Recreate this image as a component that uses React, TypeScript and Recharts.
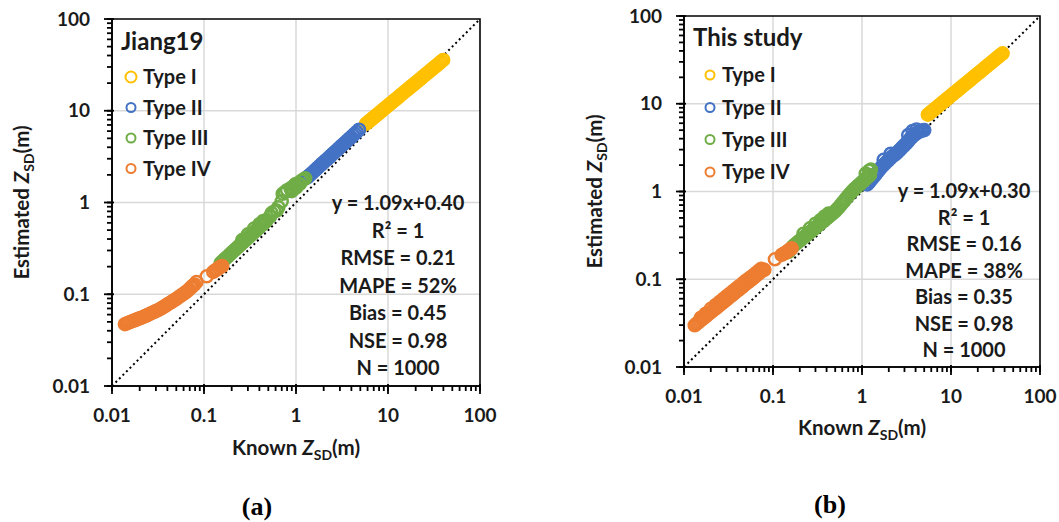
import React from 'react';
import {
  ScatterChart,
  Scatter,
  XAxis,
  YAxis,
  CartesianGrid,
  ReferenceLine,
  ReferenceArea,
  Legend,
} from 'recharts';

type Pt = [number, number];

const FONT = 'Lato, "Open Sans", sans-serif';
const INK = '#1a1a1a';

// axis ticks (log 0.01 - 100)
const decades = [0.01, 0.1, 1, 10, 100];
const decadeLabels = ['0.01', '0.1', '1', '10', '100'];
const minorSteps = [2, 3, 4, 5, 6, 7, 8, 9];
const minorTicks = decades.slice(0, 4).flatMap((d) => minorSteps.map((m) => Number((d * m).toPrecision(3))));
const axisTicks = [...decades, ...minorTicks].sort((a, b) => a - b);
const gridValues = [0.1, 1, 10];

const typeNames = ['Type I', 'Type II', 'Type III', 'Type IV'];
const typeColors = ['#FFC000', '#4472C4', '#70AD47', '#ED7D31'];

// (a) Jiang19
const typeIA: Pt[] = [
  [5.754, 7.178], [6.03, 7.46], [6.31, 7.762], [6.61, 8.06], [6.918, 8.375], [7.24, 8.7],
  [7.586, 9.036], [7.94, 9.38], [8.318, 9.75], [8.71, 10.13], [9.12, 10.52], [9.55, 10.94],
  [10.0, 11.38], [10.47, 11.82], [10.96, 12.27], [11.48, 12.75], [12.02, 13.24], [12.59, 13.76],
  [13.18, 14.29], [13.8, 14.85], [14.45, 15.42], [15.14, 16.03], [15.85, 16.67], [16.6, 17.32],
  [17.38, 17.99], [18.2, 18.69], [19.05, 19.41], [19.95, 20.16], [20.89, 20.94], [21.88, 21.75],
  [22.91, 22.59], [23.99, 23.49], [25.12, 24.43], [26.3, 25.38], [27.54, 26.36], [28.84, 27.38],
  [30.2, 28.44], [31.62, 29.54], [33.11, 30.69], [34.67, 31.88], [36.31, 33.11], [38.0, 34.43],
  [39.81, 35.81],
];
const typeIIA: Pt[] = [
  [1.318, 1.87], [1.349, 1.91], [1.38, 1.95], [1.446, 2.035], [1.514, 2.123], [1.585, 2.215],
  [1.66, 2.312], [1.738, 2.413], [1.82, 2.518], [1.905, 2.628], [1.995, 2.742], [2.089, 2.858],
  [2.188, 2.979], [2.291, 3.108], [2.399, 3.243], [2.512, 3.385], [2.63, 3.532], [2.754, 3.686],
  [2.884, 3.846], [3.02, 4.014], [3.162, 4.188], [3.311, 4.366], [3.467, 4.55], [3.631, 4.749],
  [3.802, 4.955], [3.981, 5.172], [4.169, 5.395], [4.365, 5.632], [4.571, 5.875], [4.84, 6.21],
];
const typeIIIA: Pt[] = [
  [0.1514, 0.2188], [0.1585, 0.2283], [0.166, 0.2382], [0.1738, 0.2486], [0.182, 0.2594],
  [0.1905, 0.2707], [0.1995, 0.2825], [0.2089, 0.2948], [0.2188, 0.3076], [0.2291, 0.321],
  [0.2399, 0.335], [0.2512, 0.3496], [0.263, 0.3648], [0.2754, 0.3807], [0.2884, 0.3972],
  [0.302, 0.4145], [0.3162, 0.4325], [0.3311, 0.4514], [0.3467, 0.471], [0.3631, 0.4916],
  [0.3802, 0.5129], [0.3981, 0.5353], [0.4169, 0.5585], [0.4365, 0.5829], [0.4571, 0.6081],
  [0.4677, 0.6215], [0.4786, 0.6353], [0.26, 0.39], [0.3, 0.45], [0.35, 0.52], [0.4, 0.58],
  [0.44, 0.63], [0.52, 0.7], [0.544, 0.766], [0.58, 0.8], [0.617, 0.818], [0.643, 0.889],
  [0.7, 1.03], [0.716, 1.245], [0.759, 1.294], [0.8, 1.36], [0.871, 1.429], [0.9, 1.33],
  [0.93, 1.4], [0.955, 1.521], [0.98, 1.58], [1.0, 1.45], [1.047, 1.618], [1.1, 1.6],
  [1.148, 1.726], [1.2, 1.78], [1.259, 1.837],
];
const typeIVA: Pt[] = [
  [0.0138, 0.0472], [0.01445, 0.0481], [0.0151, 0.049], [0.01585, 0.0499], [0.0166, 0.0508],
  [0.01738, 0.0517], [0.0182, 0.0527], [0.01905, 0.0537], [0.02, 0.0547], [0.02089, 0.0556],
  [0.0219, 0.0566], [0.02291, 0.0578], [0.024, 0.059], [0.02512, 0.0603], [0.0263, 0.0617],
  [0.02754, 0.063], [0.0288, 0.0643], [0.0302, 0.0657], [0.0316, 0.0671], [0.0331, 0.0688],
  [0.0347, 0.0706], [0.0363, 0.0727], [0.038, 0.0748], [0.0398, 0.0771], [0.0417, 0.0794],
  [0.0437, 0.0817], [0.0457, 0.0841], [0.0479, 0.0867], [0.0501, 0.0893], [0.0525, 0.0922],
  [0.055, 0.0953], [0.0575, 0.0984], [0.0603, 0.1016], [0.0631, 0.105], [0.0661, 0.1086],
  [0.0692, 0.1135], [0.0724, 0.1186], [0.0741, 0.1214], [0.0759, 0.1242], [0.079, 0.128],
  [0.083, 0.136], [0.107, 0.157], [0.126, 0.175], [0.132, 0.181], [0.138, 0.187],
  [0.145, 0.193], [0.151, 0.2], [0.158, 0.203],
];

// (b) This study
const typeIB: Pt[] = [
  [5.495, 7.5], [5.754, 7.8], [6.026, 8.11], [6.31, 8.42], [6.607, 8.75], [6.918, 9.09],
  [7.244, 9.44], [7.586, 9.82], [7.943, 10.21], [8.318, 10.61], [8.71, 11.02], [9.12, 11.45],
  [9.55, 11.89], [10.0, 12.36], [10.47, 12.85], [10.96, 13.35], [11.48, 13.87], [12.02, 14.4],
  [12.59, 14.96], [13.18, 15.56], [13.8, 16.18], [14.45, 16.8], [15.14, 17.46], [15.85, 18.13],
  [16.6, 18.84], [17.38, 19.59], [18.2, 20.37], [19.05, 21.15], [19.95, 21.98], [20.89, 22.82],
  [21.88, 23.71], [22.91, 24.65], [23.99, 25.64], [25.12, 26.63], [26.3, 27.67], [27.54, 28.74],
  [28.84, 29.85], [30.2, 31.04], [31.62, 32.28], [33.11, 33.53], [34.67, 34.83], [36.31, 36.18],
  [38.02, 37.58],
];
const typeIIB: Pt[] = [
  [1.148, 1.202], [1.202, 1.274], [1.259, 1.349], [1.318, 1.429], [1.38, 1.514], [1.445, 1.603],
  [1.514, 1.698], [1.585, 1.799], [1.66, 1.905], [1.738, 1.995], [1.82, 2.089], [1.905, 2.188],
  [1.995, 2.291], [2.089, 2.399], [2.188, 2.512], [2.291, 2.6], [2.399, 2.692], [2.512, 2.818],
  [2.63, 2.951], [2.754, 3.09], [2.884, 3.236], [3.02, 3.388], [3.162, 3.548], [3.311, 3.758],
  [3.467, 3.981], [3.631, 4.169], [3.802, 4.365], [3.981, 4.519], [4.169, 4.677], [4.365, 4.786],
  [4.571, 4.898], [4.786, 4.955], [5.012, 5.012], [1.75, 2.3], [2.1, 2.7], [3.3, 4.4],
  [3.7, 4.9], [4.1, 5.1],
];
const typeIIIB: Pt[] = [
  [0.15, 0.205], [0.158, 0.22], [0.166, 0.2355], [0.174, 0.2451], [0.182, 0.2547],
  [0.1905, 0.2648], [0.1995, 0.2748], [0.2089, 0.286], [0.2188, 0.2972], [0.2291, 0.3089],
  [0.2399, 0.3206], [0.2512, 0.3337], [0.263, 0.3467], [0.2754, 0.3608], [0.2884, 0.375],
  [0.302, 0.3898], [0.3162, 0.4046], [0.3311, 0.4211], [0.3467, 0.4375], [0.3631, 0.4554],
  [0.3802, 0.4732], [0.3981, 0.4919], [0.4169, 0.5105], [0.4365, 0.5313], [0.4571, 0.5521],
  [0.4786, 0.5746], [0.5012, 0.597], [0.5248, 0.6281], [0.5495, 0.6592], [0.5754, 0.6994],
  [0.6026, 0.7396], [0.631, 0.7838], [0.6607, 0.8279], [0.6918, 0.8785], [0.7244, 0.929],
  [0.7586, 0.9795], [0.7943, 1.03], [0.8318, 1.076], [0.871, 1.122], [0.912, 1.172],
  [0.955, 1.222], [1.0, 1.276], [1.047, 1.33], [1.096, 1.389], [1.148, 1.449], [1.189, 1.495],
  [1.23, 1.542], [0.22, 0.33], [0.26, 0.38], [0.3, 0.43], [0.34, 0.47], [0.38, 0.52],
  [0.42, 0.56], [1.1, 1.6], [1.2, 1.72], [1.26, 1.78],
];
const typeIVB: Pt[] = [
  [0.01318, 0.0299], [0.0138, 0.0311], [0.01445, 0.0323], [0.01514, 0.0335], [0.01585, 0.0348],
  [0.0166, 0.0361], [0.01738, 0.0375], [0.0182, 0.039], [0.01905, 0.0405], [0.01995, 0.0421],
  [0.02089, 0.0437], [0.02188, 0.0453], [0.02291, 0.047], [0.02399, 0.0488], [0.02512, 0.0507],
  [0.0263, 0.0527], [0.02754, 0.0547], [0.02884, 0.0568], [0.0302, 0.059], [0.0316, 0.0613],
  [0.0331, 0.0637], [0.0347, 0.0661], [0.0363, 0.0686], [0.038, 0.0713], [0.0398, 0.074],
  [0.0417, 0.0769], [0.0437, 0.0798], [0.0457, 0.083], [0.0479, 0.0861], [0.0501, 0.0895],
  [0.0525, 0.0929], [0.055, 0.0964], [0.0575, 0.1], [0.0603, 0.104], [0.0631, 0.1079],
  [0.0661, 0.1121], [0.0692, 0.1164], [0.0724, 0.121], [0.0759, 0.1256], [0.08, 0.128],
  [0.0155, 0.0365], [0.0175, 0.0405], [0.02, 0.046], [0.0225, 0.0505], [0.025, 0.055],
  [0.0275, 0.0595], [0.03, 0.064], [0.033, 0.069], [0.036, 0.074], [0.039, 0.079],
  [0.042, 0.084], [0.046, 0.0905], [0.05, 0.097], [0.054, 0.1025], [0.058, 0.108],
  [0.062, 0.114], [0.066, 0.12], [0.07, 0.126], [0.074, 0.132], [0.105, 0.169], [0.125, 0.189],
  [0.131, 0.195], [0.138, 0.2], [0.144, 0.207], [0.15, 0.212], [0.156, 0.22], [0.162, 0.225],
];

const statsA = ['y = 1.09x+0.40', 'R² = 1', 'RMSE = 0.21', 'MAPE = 52%', 'Bias = 0.45', 'NSE = 0.98', 'N = 1000'];
const statsB = ['y = 1.09x+0.30', 'R² = 1', 'RMSE = 0.16', 'MAPE = 38%', 'Bias = 0.35', 'NSE = 0.98', 'N = 1000'];

const toRows = (pts: Pt[]) => pts.map(([x, y]) => ({ x, y }));

// minor tick lines come from the axis (tickSize 5); decades get a longer mark + label
const XTick = (props: any) => {
  const { x, y, payload } = props;
  const i = decades.indexOf(payload.value);
  if (i < 0) return <g />;
  return (
    <g>
      <line x1={x} x2={x} y1={y - 7} y2={y + 3} stroke="#000" strokeWidth={1.8} />
      <text x={x} y={y + 31} textAnchor="middle" fontFamily={FONT} fontWeight={700} fontSize={19} fill={INK}>
        {decadeLabels[i]}
      </text>
    </g>
  );
};

const YTick = (props: any) => {
  const { x, y, payload } = props;
  const i = decades.indexOf(payload.value);
  if (i < 0) return <g />;
  return (
    <g>
      <line x1={x - 3} x2={x + 7} y1={y} y2={y} stroke="#000" strokeWidth={1.8} />
      <text x={x - 17} y={y + 6.5} textAnchor="end" fontFamily={FONT} fontWeight={700} fontSize={19} fill={INK}>
        {decadeLabels[i]}
      </text>
    </g>
  );
};

const zsd = (prefix: string) => [
  <tspan key="p">{prefix}</tspan>,
  <tspan key="z" fontStyle="italic">Z</tspan>,
  <tspan key="s" fontSize={14} dy={5}>SD</tspan>,
  <tspan key="m" dy={-5}>(m)</tspan>,
];

interface PanelSpec {
  left: number;
  width: number;
  height: number;
  margin: { top: number; right: number; bottom: number; left: number };
  yAxisWidth: number;
  title: string;
  titleX: number;
  titleY: number;
  legendX: number;
  legendY: number[];
  legendR: number[];
  statsX: number;
  statsY: number;
  statsGap: number;
  stats: string[];
  xTitle: [number, number];
  yTitle: [number, number];
  series: Pt[][];
}

function Panel({ spec }: { spec: PanelSpec }) {
  const legendContent = (props: any) => {
    const payload = props.payload || [];
    return (
      <svg width={spec.width} height={200} style={{ display: 'block' }}>
        <text x={spec.titleX} y={spec.titleY} fontFamily={FONT} fontWeight={700} fontSize={24} fill={INK}>
          {spec.title}
        </text>
        {payload.map((e: any, i: number) => (
          <g key={e.value}>
            <circle cx={spec.legendX} cy={spec.legendY[i]} r={spec.legendR[i]} fill="none" stroke={e.color} strokeWidth={2} />
            <text x={spec.legendX + 12} y={spec.legendY[i] + 7} fontFamily={FONT} fontWeight={700} fontSize={20} fill={INK}>
              {e.value}
            </text>
          </g>
        ))}
      </svg>
    );
  };

  return (
    <div style={{ position: 'absolute', left: spec.left, top: 0, width: spec.width, height: spec.height }}>
      <ScatterChart width={spec.width} height={spec.height} margin={spec.margin}>
        <CartesianGrid horizontalValues={gridValues} verticalValues={gridValues} stroke="#d9d9d9" strokeWidth={1.5} />
        <XAxis
          dataKey="x"
          type="number"
          scale="log"
          domain={[0.01, 100]}
          ticks={axisTicks}
          interval={0}
          allowDataOverflow
          height={60}
          tickSize={5}
          tickMargin={0}
          tickLine={{ stroke: '#000', strokeWidth: 1.8 }}
          axisLine={{ stroke: '#000', strokeWidth: 1.6 }}
          tick={<XTick />}
        />
        <YAxis
          dataKey="y"
          type="number"
          scale="log"
          domain={[0.01, 100]}
          ticks={axisTicks}
          interval={0}
          allowDataOverflow
          width={spec.yAxisWidth}
          tickSize={5}
          tickMargin={0}
          tickLine={{ stroke: '#000', strokeWidth: 1.8 }}
          axisLine={{ stroke: '#000', strokeWidth: 1.6 }}
          tick={<YTick />}
        />
        {spec.series.map((pts, i) => (
          <Scatter
            key={typeNames[i]}
            name={typeNames[i]}
            data={toRows(pts)}
            fill={typeColors[i]}
            legendType="circle"
            isAnimationActive={false}
            shape={(p: any) => (
              <circle cx={p.cx} cy={p.cy} r={6} fill="none" stroke={typeColors[i]} strokeWidth={2.5} />
            )}
          />
        ))}
        <ReferenceLine
          segment={[{ x: 0.01, y: 0.01 }, { x: 100, y: 100 }]}
          stroke="#000"
          strokeWidth={2}
          strokeDasharray="2 3"
        />
        <ReferenceArea x1={0.01} x2={100} y1={0.01} y2={100} fill="none" stroke="#000" strokeWidth={1.6} />
        <Legend
          layout="vertical"
          align="center"
          verticalAlign="middle"
          wrapperStyle={{ left: 0, top: 0, width: spec.width, height: 200 }}
          content={legendContent}
        />
      </ScatterChart>
      <svg
        width={spec.width}
        height={spec.height}
        style={{ position: 'absolute', left: 0, top: 0, pointerEvents: 'none' }}
      >
        {spec.stats.map((s, i) => (
          <text key={s} x={spec.statsX} y={spec.statsY + i * spec.statsGap} textAnchor="middle" fontFamily={FONT} fontWeight={700} fontSize={20} fill={INK}>
            {s}
          </text>
        ))}
        <text x={spec.xTitle[0]} y={spec.xTitle[1]} textAnchor="middle" fontFamily={FONT} fontWeight={700} fontSize={20.5} fill={INK}>
          {zsd('Known ')}
        </text>
        <text
          transform={`translate(${spec.yTitle[0]},${spec.yTitle[1]}) rotate(-90)`}
          textAnchor="middle"
          fontFamily={FONT}
          fontWeight={700}
          fontSize={20.5}
          fill={INK}
        >
          {zsd('Estimated ')}
        </text>
      </svg>
    </div>
  );
}

const panelA: PanelSpec = {
  left: 0,
  width: 500,
  height: 470,
  margin: { top: 19, right: 20, bottom: 24, left: 0 },
  yAxisWidth: 112,
  title: 'Jiang19',
  titleX: 121,
  titleY: 50,
  legendX: 131,
  legendY: [77, 107.5, 138, 168.5],
  legendR: [5.5, 4.5, 4.5, 4.5],
  statsX: 398,
  statsY: 210,
  statsGap: 27.5,
  stats: statsA,
  xTitle: [296, 455],
  yTitle: [29, 202.5],
  series: [typeIA, typeIIA, typeIIIA, typeIVA],
};

const panelB: PanelSpec = {
  left: 560,
  width: 499,
  height: 470,
  margin: { top: 16, right: 19, bottom: 43, left: 0 },
  yAxisWidth: 124,
  title: 'This study',
  titleX: 133,
  titleY: 46,
  legendX: 150,
  legendY: [75, 107.5, 139.5, 172],
  legendR: [4.5, 4.5, 4.5, 4.5],
  statsX: 404,
  statsY: 198,
  statsGap: 26.5,
  stats: statsB,
  xTitle: [302, 435],
  yTitle: [42, 191.5],
  series: [typeIB, typeIIB, typeIIIB, typeIVB],
};

export default function App() {
  return (
    <div style={{ position: 'absolute', left: 0, top: 0, width: 1059, height: 522, background: '#fff' }}>
      <Panel spec={panelA} />
      <Panel spec={panelB} />
      <div style={{ position: 'absolute', left: 227, top: 492, width: 60, textAlign: 'center', fontFamily: '"Liberation Serif", serif', fontWeight: 700, fontSize: 26, color: '#000' }}>
        (a)
      </div>
      <div style={{ position: 'absolute', left: 800, top: 490, width: 60, textAlign: 'center', fontFamily: '"Liberation Serif", serif', fontWeight: 700, fontSize: 26, color: '#000' }}>
        (b)
      </div>
    </div>
  );
}
